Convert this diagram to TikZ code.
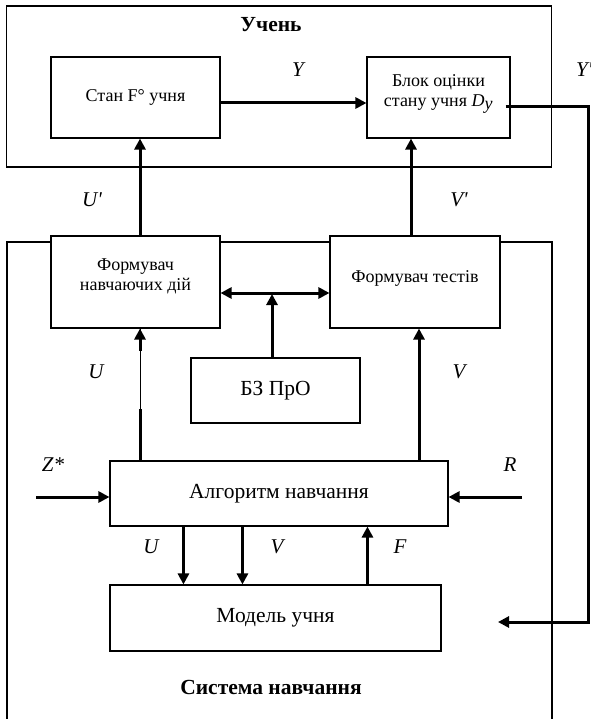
\documentclass[tikz,border=0pt]{standalone}
\usepackage{fontspec}
\setmainfont{Liberation Serif}
\usetikzlibrary{arrows.meta,calc}
\begin{document}
\begin{tikzpicture}[x=1pt,y=-1pt,
 box/.style={draw,line width=1.1pt,fill=white,inner sep=2pt,align=center,font=\fontsize{18}{20}\selectfont},
 bigbox/.style={box,font=\fontsize{21.5}{25}\selectfont},
 lab/.style={font=\fontsize{21}{25}\selectfont\itshape,inner sep=0pt},
 ttl/.style={font=\fontsize{21.5}{25}\selectfont\bfseries,inner sep=0pt},
 frame/.style={draw,line width=1.1pt},
 thk/.style={line width=3pt},
 arr/.style={thk,-{Triangle[length=11pt,width=11pt]}},
 darr/.style={thk,{Triangle[length=11pt,width=11pt]}-{Triangle[length=11pt,width=11pt]}},
]
\useasboundingbox (0,0) rectangle (590,719);
% top frame
\node[frame, minimum width=545pt, minimum height=161pt] (uchen) at (279.4,86.5) {};
\node[ttl] (t1) at (271,25) {Учень};
\node[box, minimum width=169pt, minimum height=81pt] (stan) at (135.5,97.5) {Стан F° учня};
\node[box, minimum width=143pt, minimum height=81pt] (blok) at (438.5,97.5) {Блок оцінки\\стану учня \textit{D}$_{\textit{y}}$\\[-6pt]};
% lower frame
\draw[line width=1.1pt] (7,722) -- (7,242) -- (552,242) -- (552,722);
\node[box, minimum width=169pt, minimum height=92pt] (form1) at (135.5,282) {Формувач\\навчаючих дій\\[-6pt]};
\node[box, minimum width=170pt, minimum height=92pt] (form2) at (415,282) {Формувач тестів\\[-10pt]};
\node[bigbox, minimum width=169pt, minimum height=65pt] (bz) at (275.5,390.5) {БЗ ПрО};
\node[bigbox, minimum width=338pt, minimum height=65pt] (alg) at (279,493.5) {Алгоритм навчання};
\node[bigbox, minimum width=331pt, minimum height=66pt] (model) at (275.5,618) {Модель учня};
\node[ttl] (t2) at (271,687) {Система навчання};
% connectors
\draw[arr] ($(stan.east)+(0,5.5)$) -- ($(blok.west)+(0,5.5)$);
\coordinate (c1) at (588,107);
\coordinate (c2) at (588,622);
\coordinate (fbtip) at (498,622);
\draw[arr] ($(blok.east)+(-5,9.5)$) -- (c1) -- (c2) -- (fbtip);
\draw[arr] ($(form1.north)+(4.5,0)$) -- ($(stan.south)+(4.5,0)$);
\coordinate (vp) at ($(form2.north)+(-4,0)$);
\draw[arr] (vp) -- (vp |- blok.south);
\draw[darr] ($(form1.east)+(0,11)$) -- ($(form2.west)+(0,11)$);
\coordinate (bzt) at ($(bz.north)+(-3.5,0)$);
\draw[arr] (bzt) -- ($(bzt |- form1.east)+(0,12)$);
\coordinate (ua) at ($(alg.north)+(-139,0)$);
\coordinate (ub) at (ua |- form1.south);
\draw[line width=1pt] (ua) -- (ub);
\draw[thk] (ua) -- ($(ua)+(0,-51)$);
\draw[arr] ($(ub)+(0,22)$) -- (ub);
\coordinate (va) at ($(alg.north)+(140,0)$);
\draw[arr] (va) -- (va |- form2.south);
\coordinate (zin) at (36,497);
\draw[arr] (zin) -- (zin -| alg.west);
\coordinate (rin) at (522,497);
\draw[arr] (rin) -- (rin -| alg.east);
\coordinate (ud) at ($(alg.south west)+(74,0)$);
\draw[arr] (ud) -- (ud |- model.north);
\coordinate (vd) at ($(alg.south west)+(133,0)$);
\draw[arr] (vd) -- (vd |- model.north);
\coordinate (fu) at ($(model.north west)+(258,0)$);
\draw[arr] (fu) -- (fu |- alg.south);
% labels
\node[lab] (lY) at (298,70) {Y};
\node[lab,anchor=west] (lY2) at (576,70) {Y\textquotesingle};
\node[lab] (lU1) at (92,200) {U\textquotesingle};
\node[lab] (lV1) at (459,200) {V\textquotesingle};
\node[lab] (lU2) at (96,372) {U};
\node[lab] (lV2) at (459,372) {V};
\node[lab] (lZ) at (53,465) {Z*};
\node[lab] (lR) at (510,465) {R};
\node[lab] (lU3) at (151,547) {U};
\node[lab] (lV3) at (277,547) {V};
\node[lab] (lF) at (400,547) {F};
\end{tikzpicture}
\end{document}
